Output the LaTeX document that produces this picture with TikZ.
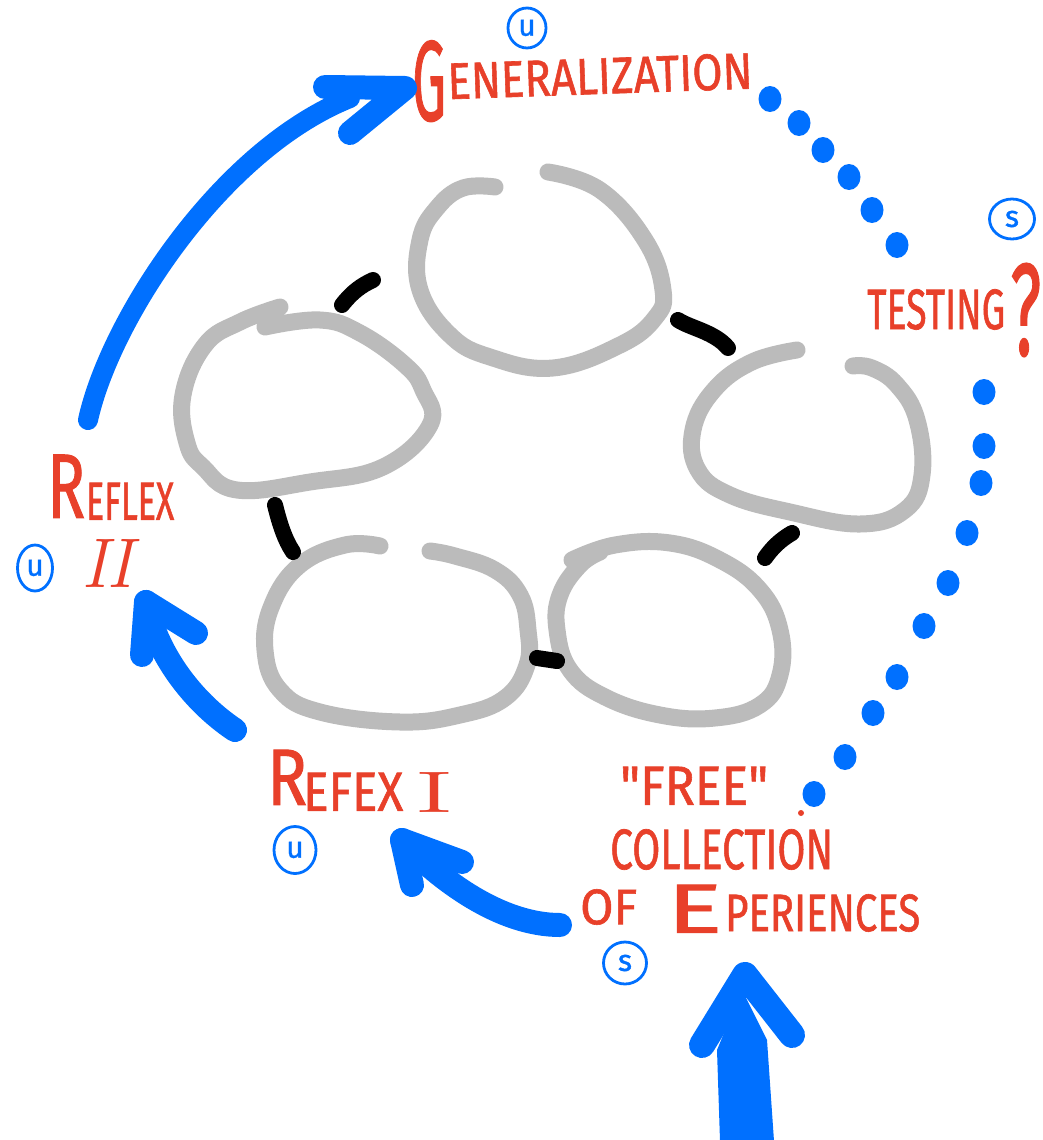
\documentclass[tikz,border=0pt]{standalone}
\usepackage{fontspec}
\newfontfamily\hand{Fira Sans}[FakeBold=1.2]
\usetikzlibrary{shapes.geometric}
\definecolor{hred}{HTML}{E8402A}
\definecolor{hblue}{HTML}{0070FF}
\definecolor{hgrey}{HTML}{BBBBBB}
\newcommand\handtxt[3]{\resizebox{#1pt}{#2pt}{\hand\fontsize{40}{40}\selectfont #3}}
\begin{document}
\begin{tikzpicture}[x=1pt,y=-1pt,
  ring/.style={draw=hgrey, line width=17pt, line cap=round, line join=round},
  link/.style={draw=black, line width=16pt, line cap=round},
  barrow/.style={draw=hblue, line width=20pt, line cap=round, line join=round},
  txt/.style={text=hred, inner sep=0pt, anchor=south west},
  letc/.style={ellipse, draw=hblue, text=hblue, line width=2.8pt, inner sep=0pt,
    font=\hand\fontsize{30}{30}\selectfont}]
\useasboundingbox (0,0) rectangle (1043,1140);
\fill[white] (0,0) rectangle (1043,1140);

% grey rings
\draw[ring] plot[smooth, tension=0.7] coordinates {(548,172) (600,190) (645,240) (663,290) (655,318) (620,345) (553,368) (490,357) (450,335) (420,290) (420,240) (437,208) (463,188) (495,187)};
\draw[ring] plot[smooth, tension=0.7] coordinates {(280,307) (240,322) (205,345) (183,395) (187,443) (203,467) (237,490) (310,482) (383,467) (430,425) (423,390) (405,365) (360,333) (320,320) (265,327)};
\draw[ring] plot[smooth, tension=0.7] coordinates {(797,350) (752,362) (714,390) (693,430) (698,470) (730,495) (790,512) (860,524) (905,510) (922,475) (917,420) (897,385) (872,368) (853,366)};
\draw[ring] plot[smooth, tension=0.7] coordinates {(380,546) (345,545) (300,565) (272,605) (265,650) (280,690) (320,712) (400,722) (460,715) (505,698) (527,665) (528,630) (520,595) (495,570) (455,556) (430,551)};
\draw[ring] plot[smooth, tension=0.7] coordinates {(572,560) (615,545) (670,543) (720,560) (760,590) (780,630) (780,675) (760,705) (715,718) (660,715) (605,697) (570,670) (557,630) (560,595) (580,565) (600,552)};

% black links between rings
\coordinate (d12a) at (342,305); \coordinate (d12b) at (373,280);
\coordinate (d13a) at (678,320); \coordinate (d13b) at (728,348);
\coordinate (d24a) at (275,505); \coordinate (d24b) at (293,552);
\coordinate (d45a) at (537,658); \coordinate (d45b) at (557,661);
\coordinate (d53a) at (765,558); \coordinate (d53b) at (792,533);
\draw[link] (d12a) .. controls (352,292) and (362,285) .. (d12b);
\draw[link] (d13a) .. controls (690,328) and (715,332) .. (d13b);
\draw[link] (d24a) .. controls (280,525) and (285,540) .. (d24b);
\draw[link] (d45a) -- (d45b);
\draw[link] (d53a) .. controls (772,548) and (780,540) .. (d53b);

% red texts
\node[txt] (genG) at (412,122) {\handtxt{34}{80}{G}};
\node[txt, rotate=2] (gen) at (448,100) {\handtxt{305}{36}{ENERALIZATION}};
\node[txt] (test) at (867,330) {\handtxt{138}{40}{TESTING}};
\node[txt] (testq) at (1010,357) {\handtxt{31}{92}{?}};
\node[txt] (r2R) at (47,518) {\handtxt{38}{63}{R}};
\node[txt] (r2) at (86,520) {\handtxt{88}{37}{EFLEX}};
\node[txt] (r2n) at (82,588) {\resizebox{50pt}{48pt}{\rmfamily\itshape II}};
\node[txt] (r1R) at (267,805) {\handtxt{40}{55}{R}};
\node[txt] (r1) at (303,811) {\handtxt{100}{38}{EFEX}};
\node[txt] (r1n) at (417,813) {\resizebox{34pt}{40pt}{\rmfamily I}};
\node[txt] (free) at (620,805) {\handtxt{148}{38}{"FREE"}};
\node[txt] (coll) at (610,870) {\handtxt{223}{40}{COLLECTION}};
\node[txt] (of) at (580,925) {\handtxt{57}{35}{OF}};
\node[txt] (expE) at (667,933) {\handtxt{55}{48}{E}};
\node[txt] (exp) at (725,932) {\handtxt{195}{37}{PERIENCES}};
\fill[hred] (801,813) circle (3pt);

% circled marks
\node[letc, minimum width=38pt, minimum height=40pt] (cu1) at (527,28) {u};
\node[letc, minimum width=45pt, minimum height=40pt] (cs1) at (1012,219) {s};
\node[letc, minimum width=35pt, minimum height=46pt] (cu2) at (35,568) {u};
\node[letc, minimum width=42pt, minimum height=47pt] (cu3) at (295,850) {u};
\node[letc, minimum width=43pt, minimum height=42pt] (cs2) at (625,963) {s};

% dotted path
\foreach \p in {(770,99),(799,123),(823,150),(849,177),(872,210),(897,245),
  (984,392),(984,446),(981,483),(967,533),(948,583),(924,626),(897,677),(873,713),(845,757),(814,794)}
  \fill[hblue] \p ellipse (11.5pt and 13pt);

% blue arrows
\coordinate (a1s) at (88,420); \coordinate (a1e) at (350,98); \coordinate (a1t) at (405,88);
\draw[barrow] (a1s) .. controls (110,320) and (220,150) .. (a1e);
\draw[barrow, line width=24pt] (325,87) -- (a1t) -- (350,133);

\coordinate (a2s) at (235,730); \coordinate (a2t) at (146,602);
\draw[barrow, line width=24pt] (a2s) .. controls (190,700) and (155,650) .. (a2t);
\draw[barrow, line width=24pt] (196,633) -- (a2t) -- (142,655);

\coordinate (a3s) at (560,925); \coordinate (a3t) at (402,840);
\draw[barrow, line width=24pt] (a3s) .. controls (500,925) and (440,880) .. (a3t);
\draw[barrow, line width=24pt] (462,862) -- (a3t) -- (412,885);

\coordinate (a4s) at (747,1140); \coordinate (a4t) at (745,975);
\fill[hblue] (720,1141) -- (717,1050) -- (742,990) -- (767,1040) -- (774,1141) -- cycle;
\draw[barrow, line width=26pt] (702,1045) -- (a4t) -- (792,1035);
\end{tikzpicture}
\end{document}
